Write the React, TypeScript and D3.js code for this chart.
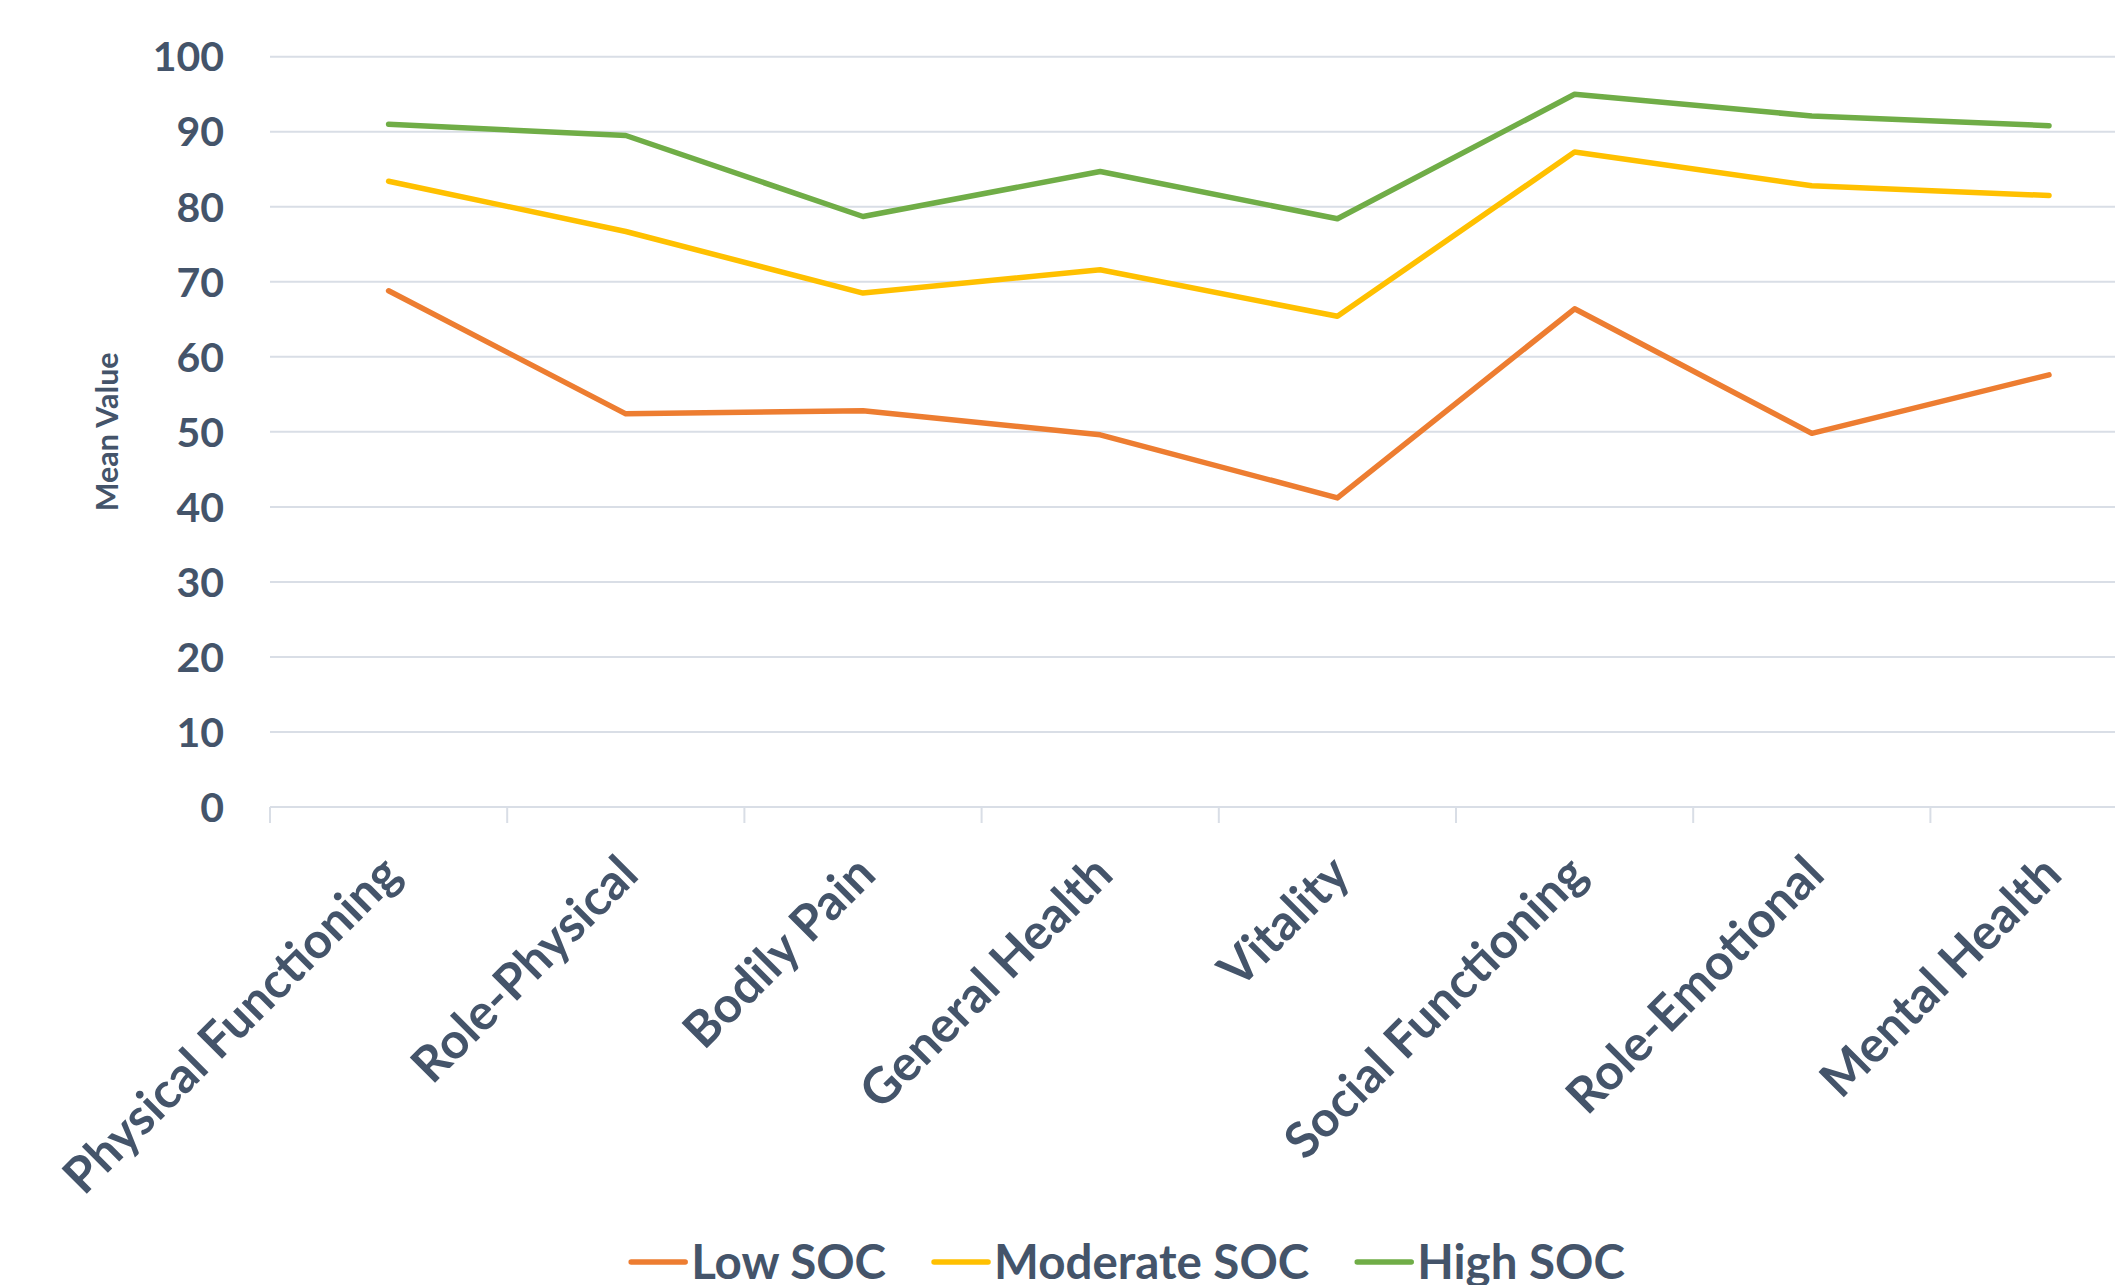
import React, { useEffect, useRef } from 'react';
import * as d3 from 'd3';

const categories = [
  'Physical Functioning',
  'Role-Physical',
  'Bodily Pain',
  'General Health',
  'Vitality',
  'Social Functioning',
  'Role-Emotional',
  'Mental Health',
];
const lowSOC = [68.8, 52.4, 52.8, 49.6, 41.2, 66.4, 49.8, 57.6];
const moderateSOC = [83.4, 76.7, 68.5, 71.6, 65.4, 87.3, 82.8, 81.5];
const highSOC = [91.0, 89.5, 78.7, 84.7, 78.4, 95.0, 92.1, 90.8];
const seriesNames = ['Low SOC', 'Moderate SOC', 'High SOC'];
const seriesColors = ['#ED7D31', '#FFC000', '#70AD47'];
const yTicks = [0, 10, 20, 30, 40, 50, 60, 70, 80, 90, 100];
const yTitle = 'Mean Value';

const W = 2115;
const H = 1285;
const TEXT = '#44546A';
const GRID = '#D9DEE6';
const FONT = 'Lato, "Open Sans", sans-serif';

export default function App() {
  const ref = useRef<SVGSVGElement>(null);

  useEffect(() => {
    const svg = d3.select(ref.current);
    svg.selectAll('*').remove();

    const left = 270;
    const band = 237.2;
    const top = 56.7;
    const bottom = 807;

    const x = d3.scaleBand<string>().domain(categories).range([left, left + band * categories.length]).padding(0);
    const y = d3.scaleLinear().domain([0, 100]).range([bottom, top]);
    const cx = (c: string) => (x(c) as number) + x.bandwidth() / 2;

    // gridlines
    svg.append('g')
      .selectAll('line')
      .data(yTicks)
      .join('line')
      .attr('x1', left)
      .attr('x2', W)
      .attr('y1', (d) => y(d))
      .attr('y2', (d) => y(d))
      .attr('stroke', GRID)
      .attr('stroke-width', 2);

    // category tick marks
    svg.append('g')
      .selectAll('line')
      .data(categories)
      .join('line')
      .attr('x1', (d) => x(d) as number)
      .attr('x2', (d) => x(d) as number)
      .attr('y1', bottom)
      .attr('y2', bottom + 16)
      .attr('stroke', GRID)
      .attr('stroke-width', 2);

    // y tick labels
    svg.append('g')
      .selectAll('text')
      .data(yTicks)
      .join('text')
      .attr('x', 224)
      .attr('y', (d) => y(d))
      .attr('dy', '0.36em')
      .attr('text-anchor', 'end')
      .attr('font-family', FONT)
      .attr('font-weight', 700)
      .attr('font-size', 41)
      .attr('fill', TEXT)
      .text((d) => String(d));

    // y axis title
    svg.append('text')
      .attr('transform', `translate(118, ${(top + bottom) / 2}) rotate(-90)`)
      .attr('text-anchor', 'middle')
      .attr('font-family', FONT)
      .attr('font-weight', 700)
      .attr('font-size', 30.5)
      .attr('fill', TEXT)
      .text(yTitle);

    // category labels
    svg.append('g')
      .selectAll('text')
      .data(categories)
      .join('text')
      .attr('transform', (d) => `translate(${cx(d) + 15}, 877) rotate(-45)`)
      .attr('text-anchor', 'end')
      .attr('font-family', FONT)
      .attr('font-weight', 700)
      .attr('font-size', 49.5)
      .attr('fill', TEXT)
      .text((d) => d);

    // lines
    const allSeries = [lowSOC, moderateSOC, highSOC];
    const line = d3.line<number>()
      .x((_, i) => cx(categories[i]))
      .y((v) => y(v));
    svg.append('g')
      .selectAll('path')
      .data(allSeries)
      .join('path')
      .attr('d', (d) => line(d) as string)
      .attr('fill', 'none')
      .attr('stroke', (_, i) => seriesColors[i])
      .attr('stroke-width', 5.5)
      .attr('stroke-linejoin', 'round')
      .attr('stroke-linecap', 'round');

    // legend
    const legY = 1262;
    const lineLen = 54;
    const lineGap = 6;
    const itemGap = 48;
    const leg = svg.append('g');
    const items = seriesNames.map((name, i) => {
      const g = leg.append('g');
      g.append('line')
        .attr('x1', 0)
        .attr('x2', lineLen)
        .attr('y1', 0)
        .attr('y2', 0)
        .attr('stroke', seriesColors[i])
        .attr('stroke-width', 5.5)
        .attr('stroke-linecap', 'round');
      const t = g.append('text')
        .attr('x', lineLen + lineGap)
        .attr('y', 0)
        .attr('dy', '0.36em')
        .attr('font-family', FONT)
        .attr('font-weight', 700)
        .attr('font-size', 47.5)
        .attr('fill', TEXT)
        .text(name);
      const w = (t.node() as SVGTextElement).getComputedTextLength();
      return { g, w: lineLen + lineGap + w };
    });
    const total = items.reduce((s, it) => s + it.w, 0) + itemGap * (items.length - 1);
    let pos = 1128 - total / 2;
    items.forEach((it) => {
      it.g.attr('transform', `translate(${pos}, ${legY})`);
      pos += it.w + itemGap;
    });
  }, []);

  return (
    <svg
      ref={ref}
      width={W}
      height={H}
      style={{ position: 'absolute', left: 0, top: 0, background: '#fff', overflow: 'hidden' }}
    />
  );
}
